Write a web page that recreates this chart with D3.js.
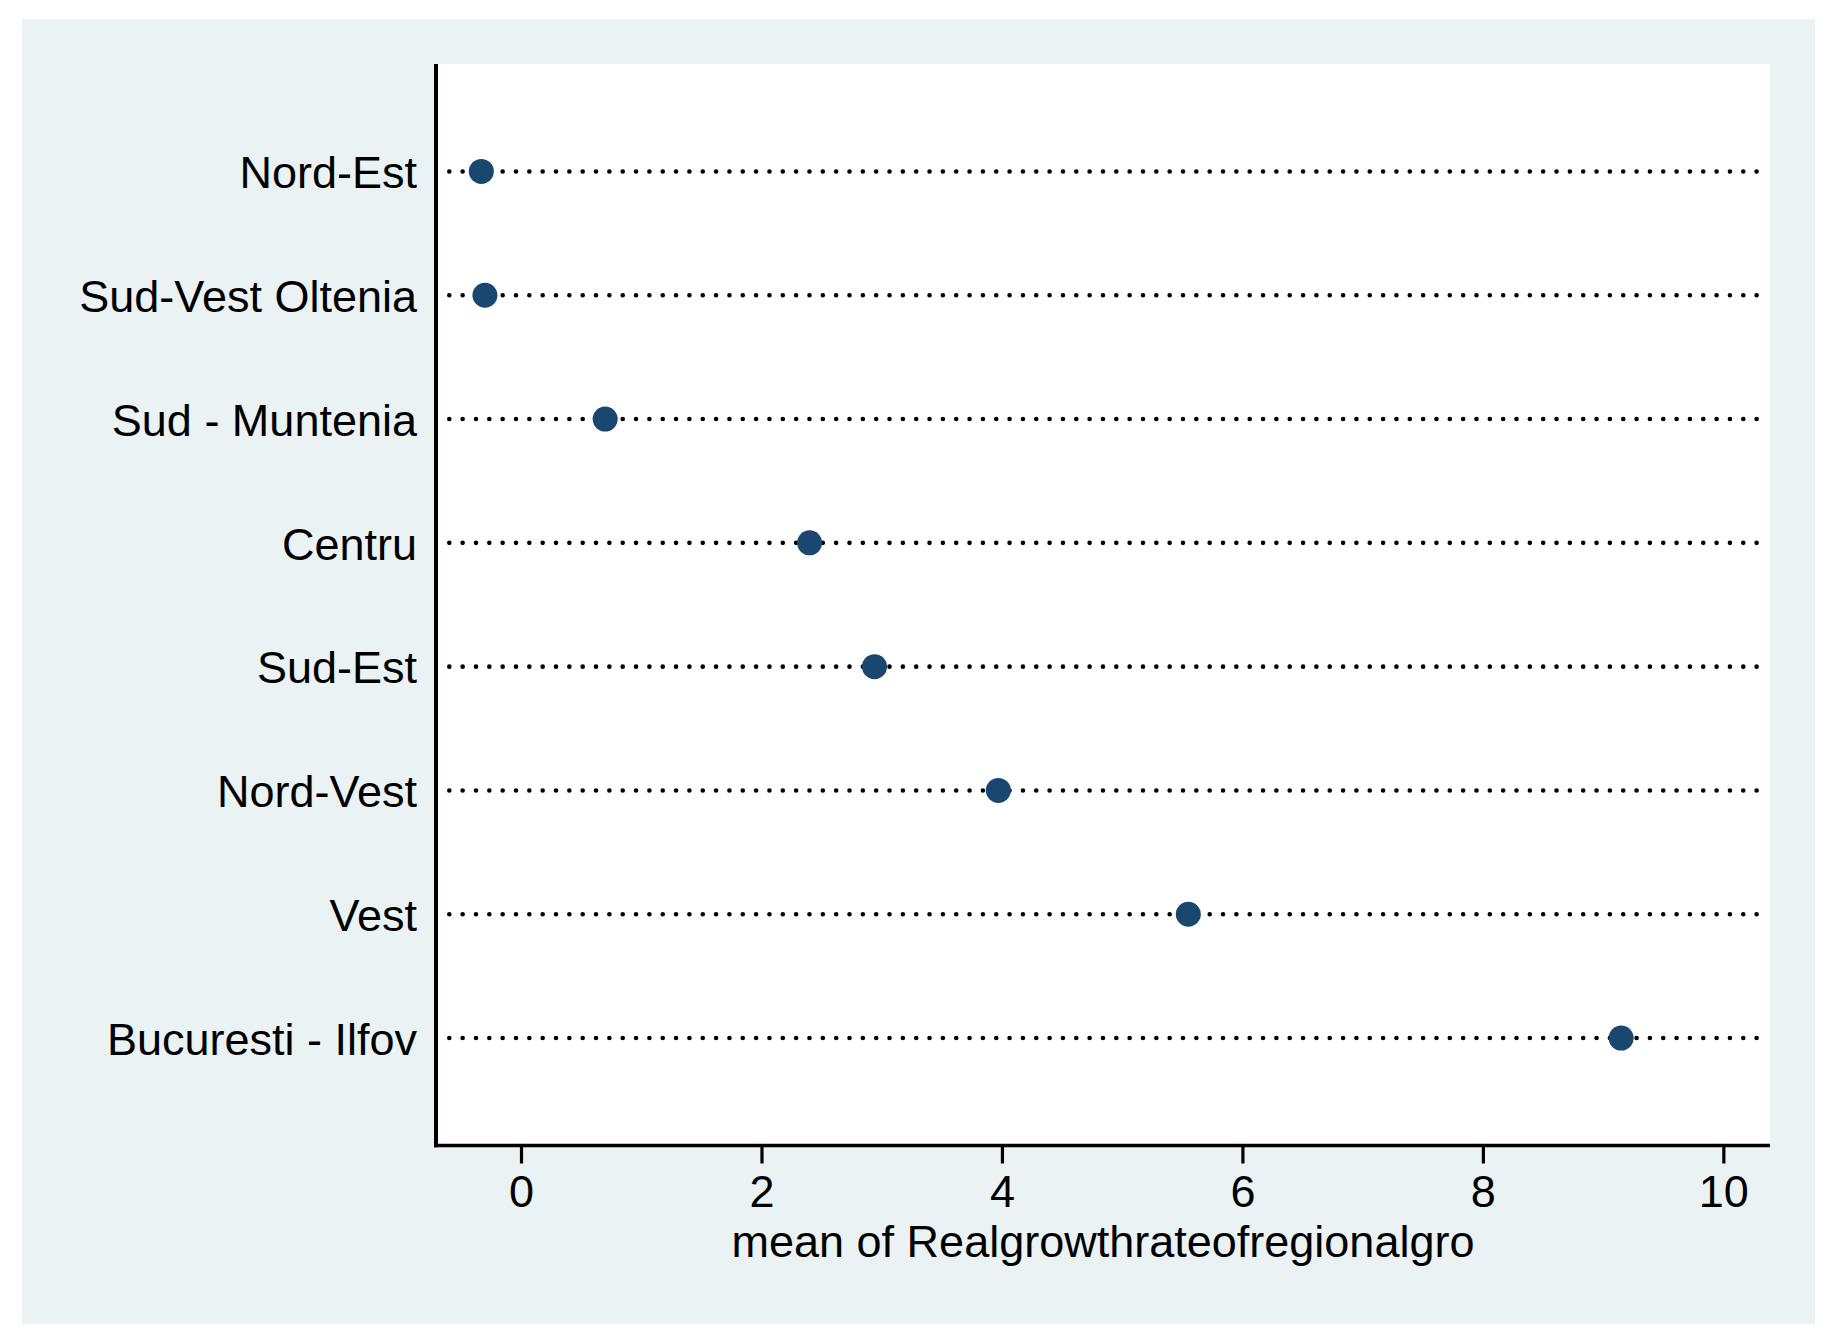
<!DOCTYPE html>
<html>
<head>
<meta charset="utf-8">
<script src="https://cdn.jsdelivr.net/npm/d3@7"></script>
<style>
  html, body { margin: 0; padding: 0; background: #ffffff; }
  svg { display: block; }
  text { font-family: "Liberation Sans", Arial, Helvetica, sans-serif; fill: #000; }
</style>
</head>
<body>
<svg id="chart" width="1838" height="1343"></svg>
<script>
// ---- data ----
const categories = ["Nord-Est", "Sud-Vest Oltenia", "Sud - Muntenia", "Centru", "Sud-Est", "Nord-Vest", "Vest", "Bucuresti - Ilfov"];
const meanValues = [-0.33, -0.30, 0.70, 2.40, 2.94, 3.97, 5.55, 9.15];
const xTickValues = [0, 2, 4, 6, 8, 10];
const xAxisTitle = "mean of Realgrowthrateofregionalgro";

// ---- layout ----
const W = 1838, H = 1343;
const outer = { x0: 22, y0: 19, x1: 1815, y1: 1324 };
const plot = { left: 436, right: 1770, top: 64, bottom: 1145.5 };
const fontSize = 45;

const svg = d3.select("#chart");

svg.append("rect")
  .attr("x", outer.x0).attr("y", outer.y0)
  .attr("width", outer.x1 - outer.x0).attr("height", outer.y1 - outer.y0)
  .attr("fill", "#EAF2F3");

svg.append("rect")
  .attr("x", plot.left).attr("y", plot.top)
  .attr("width", plot.right - plot.left).attr("height", plot.bottom - plot.top)
  .attr("fill", "#ffffff");

const x = d3.scaleLinear().domain([-0.707, 10.388]).range([plot.left, plot.right]);
const y = d3.scalePoint().domain(categories).range([plot.top, plot.bottom]).padding(0.868);

// dotted guide lines
const g = svg.append("g");
g.selectAll("line.guide")
  .data(categories)
  .join("line")
  .attr("class", "guide")
  .attr("x1", 449.3).attr("x2", 1759)
  .attr("y1", d => y(d)).attr("y2", d => y(d))
  .attr("stroke", "#000")
  .attr("stroke-width", 4.6)
  .attr("stroke-linecap", "round")
  .attr("stroke-dasharray", "0,13.34");

// dots
g.selectAll("circle.dot")
  .data(categories.map((c, i) => ({ c, v: meanValues[i] })))
  .join("circle")
  .attr("class", "dot")
  .attr("cx", d => x(d.v))
  .attr("cy", d => y(d.c))
  .attr("r", 12.5)
  .attr("fill", "#1A476F");

// category labels
g.selectAll("text.cat")
  .data(categories)
  .join("text")
  .attr("class", "cat")
  .attr("x", 417)
  .attr("y", d => y(d))
  .attr("dy", "0.37em")
  .attr("text-anchor", "end")
  .attr("font-size", fontSize)
  .text(d => d);

// left axis line
svg.append("line")
  .attr("x1", plot.left).attr("x2", plot.left)
  .attr("y1", plot.top).attr("y2", plot.bottom + 1.8)
  .attr("stroke", "#000").attr("stroke-width", 4);

// bottom axis
const xAxis = d3.axisBottom(x).tickValues(xTickValues).tickSize(18).tickPadding(12).tickFormat(d3.format("d"));
const ax = svg.append("g").attr("transform", `translate(0,${plot.bottom})`).call(xAxis);
ax.select(".domain").remove();
ax.selectAll(".tick line").attr("stroke", "#000").attr("stroke-width", 3.2);
ax.selectAll(".tick text")
  .attr("font-size", fontSize)
  .attr("font-family", '"Liberation Sans", Arial, Helvetica, sans-serif')
  .attr("fill", "#000");
svg.append("line")
  .attr("x1", plot.left - 2).attr("x2", plot.right)
  .attr("y1", plot.bottom).attr("y2", plot.bottom)
  .attr("stroke", "#000").attr("stroke-width", 3.6);

// axis title
svg.append("text")
  .attr("x", (plot.left + plot.right) / 2)
  .attr("y", 1257)
  .attr("text-anchor", "middle")
  .attr("font-size", fontSize)
  .text(xAxisTitle);
</script>
</body>
</html>
